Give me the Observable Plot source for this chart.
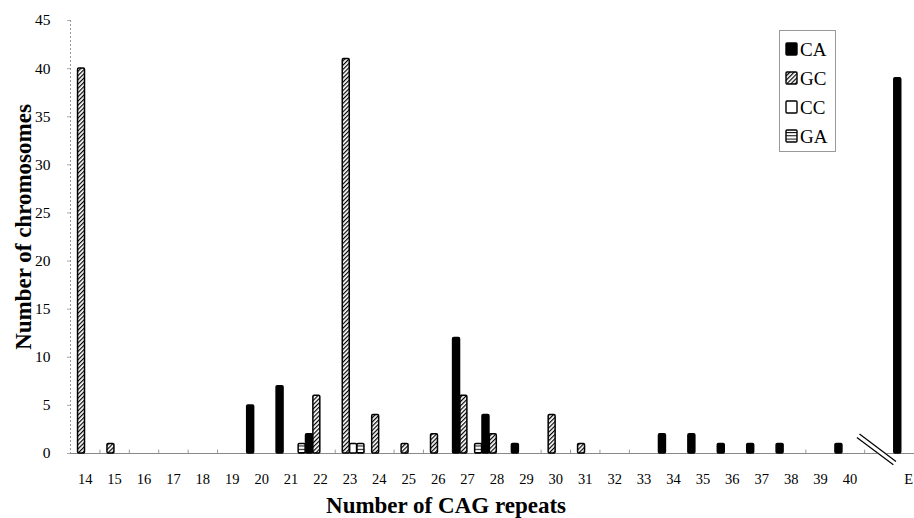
<!DOCTYPE html>
<html>
<head>
<meta charset="utf-8">
<script src="https://cdn.jsdelivr.net/npm/d3@7"></script>
<script src="https://cdn.jsdelivr.net/npm/@observablehq/plot@0.6"></script>
<style>
  html, body { margin: 0; padding: 0; background: #fff; }
  #chart { position: relative; width: 914px; height: 518px; }
</style>
</head>
<body>
<div id="chart"></div>
<script>
// ---- Data ----
const categories = ["14","15","16","17","18","19","20","21","22","23","24","25","26","27","28","29","30","31","32","33","34","35","36","37","38","39","40","","E"];
const seriesNames = ["CA", "GC", "CC", "GA"];
const CA = [0,0,0,0,0,0,5,7,2,0,0,0,0,12,4,1,0,0,0,0,2,2,1,1,1,0,1,0,39];
const GC = [40,1,0,0,0,0,0,0,6,41,4,1,2,6,2,0,4,1,0,0,0,0,0,0,0,0,0,0,0];
const CC = [0,0,0,0,0,0,0,0,0,1,0,0,0,0,0,0,0,0,0,0,0,0,0,0,0,0,0,0,0];
const GA = [0,0,0,0,0,0,0,1,0,1,0,0,0,1,0,0,0,0,0,0,0,0,0,0,0,0,0,0,0];
const yTicks = [0,5,10,15,20,25,30,35,40,45];
const xTitle = "Number of CAG repeats";
const yTitle = "Number of chromosomes";

const seriesValues = {CA, GC, CC, GA};
const fills = {CA: "black", GC: "url(#hatchGC)", CC: "white", GA: "url(#stripeGA)"};

// long table: category index, series index, value
const table = [];
seriesNames.forEach((s, si) => {
  seriesValues[s].forEach((v, i) => {
    if (v > 0) table.push({i, si, series: s, value: v});
  });
});
const nS = seriesNames.length;
const gapIndex = categories.indexOf("");
const boundaries = d3.range(categories.length - 1).map(i => i + 0.5);
const serif = "'Liberation Serif', 'Times New Roman', serif";

const breakOpts = {x1: d => d - 0.72, x2: d => d + 0.52, y1: 1.85, y2: -1.0};

const plot = Plot.plot({
  width: 914,
  height: 518,
  marginLeft: 70,
  marginRight: -9,
  marginTop: 20,
  marginBottom: 65,
  style: {fontFamily: serif, fontSize: "15px", background: "white", color: "black"},
  x: {type: "linear", domain: [-0.5, categories.length - 0.5]},
  y: {domain: [0, 45]},
  marks: [
    // y axis dotted line
    Plot.ruleX([-0.5], {stroke: "#999", strokeDasharray: "2,2"}),
    Plot.axisY({ticks: yTicks, tickSize: 3, tickPadding: 17, fontSize: 15.5, stroke: "#aaa", label: null}),
    // x axis baseline
    Plot.ruleY([0], {stroke: "#888", strokeWidth: 1.2}),
    // category boundary ticks (small, pointing up)
    Plot.ruleX(boundaries, {x: d => d, y1: 0, y2: 0.35, stroke: "#999"}),
    Plot.axisX({ticks: d3.range(categories.length), tickFormat: i => categories[i], tickSize: 0, tickPadding: 20, fontSize: 14.5, label: null}),
    // bars
    ...seriesNames.map(s => Plot.rect(table.filter(d => d.series === s), {
      x1: d => d.i - 0.5 + d.si / nS,
      x2: d => d.i - 0.5 + (d.si + 1) / nS,
      y1: 0,
      y2: "value",
      fill: fills[s],
      stroke: "black",
      strokeWidth: 1.5,
      insetLeft: 0.2,
      insetRight: 0.2,
      rx: 1.2
    })),
    // axis break symbol at the gap category
    Plot.link([gapIndex], {...breakOpts, stroke: "white", strokeWidth: 6}),
    Plot.link([gapIndex], {...breakOpts, stroke: "black", strokeWidth: 1.2, dx: -1.3, dy: 1.7}),
    Plot.link([gapIndex], {...breakOpts, stroke: "black", strokeWidth: 1.2, dx: 1.3, dy: -1.7}),
    // titles
    Plot.text([xTitle], {text: d => d, frameAnchor: "bottom", lineAnchor: "middle", dx: -51, dy: 52, fontSize: 23, fontWeight: "bold"}),
    Plot.text([yTitle], {text: d => d, frameAnchor: "left", textAnchor: "middle", lineAnchor: "middle", rotate: -90, dx: -47, dy: -10, fontSize: 23, fontWeight: "bold"})
  ]
});

// patterns
const svg = d3.select(plot);
const defs = svg.insert("defs", ":first-child");
const pGC = defs.append("pattern").attr("id", "hatchGC").attr("patternUnits", "userSpaceOnUse")
  .attr("width", 3).attr("height", 3).attr("patternTransform", "rotate(45)");
pGC.append("rect").attr("width", 3).attr("height", 3).attr("fill", "white");
pGC.append("rect").attr("width", 1.2).attr("height", 3).attr("fill", "black");
const pGA = defs.append("pattern").attr("id", "stripeGA").attr("patternUnits", "userSpaceOnUse")
  .attr("width", 4).attr("height", 3.3);
pGA.append("rect").attr("width", 4).attr("height", 3.3).attr("fill", "white");
pGA.append("rect").attr("width", 4).attr("height", 1).attr("fill", "black");

// legend
const lg = svg.append("g").attr("font-family", serif).attr("text-anchor", "start");
lg.append("rect").attr("x", 779.5).attr("y", 30.5).attr("width", 56).attr("height", 121)
  .attr("fill", "white").attr("stroke", "#999");
seriesNames.forEach((s, k) => {
  const cy = 49 + k * 29;
  lg.append("rect").attr("x", 786).attr("y", cy - 6).attr("width", 11).attr("height", 12)
    .attr("fill", fills[s]).attr("stroke", "black").attr("stroke-width", 1.4).attr("rx", 1);
  lg.append("text").attr("x", 800).attr("y", cy).attr("dy", "0.35em")
    .attr("font-size", 19).attr("fill", "black").attr("text-anchor", "start").text(s);
});

document.getElementById("chart").appendChild(plot);
</script>
</body>
</html>
